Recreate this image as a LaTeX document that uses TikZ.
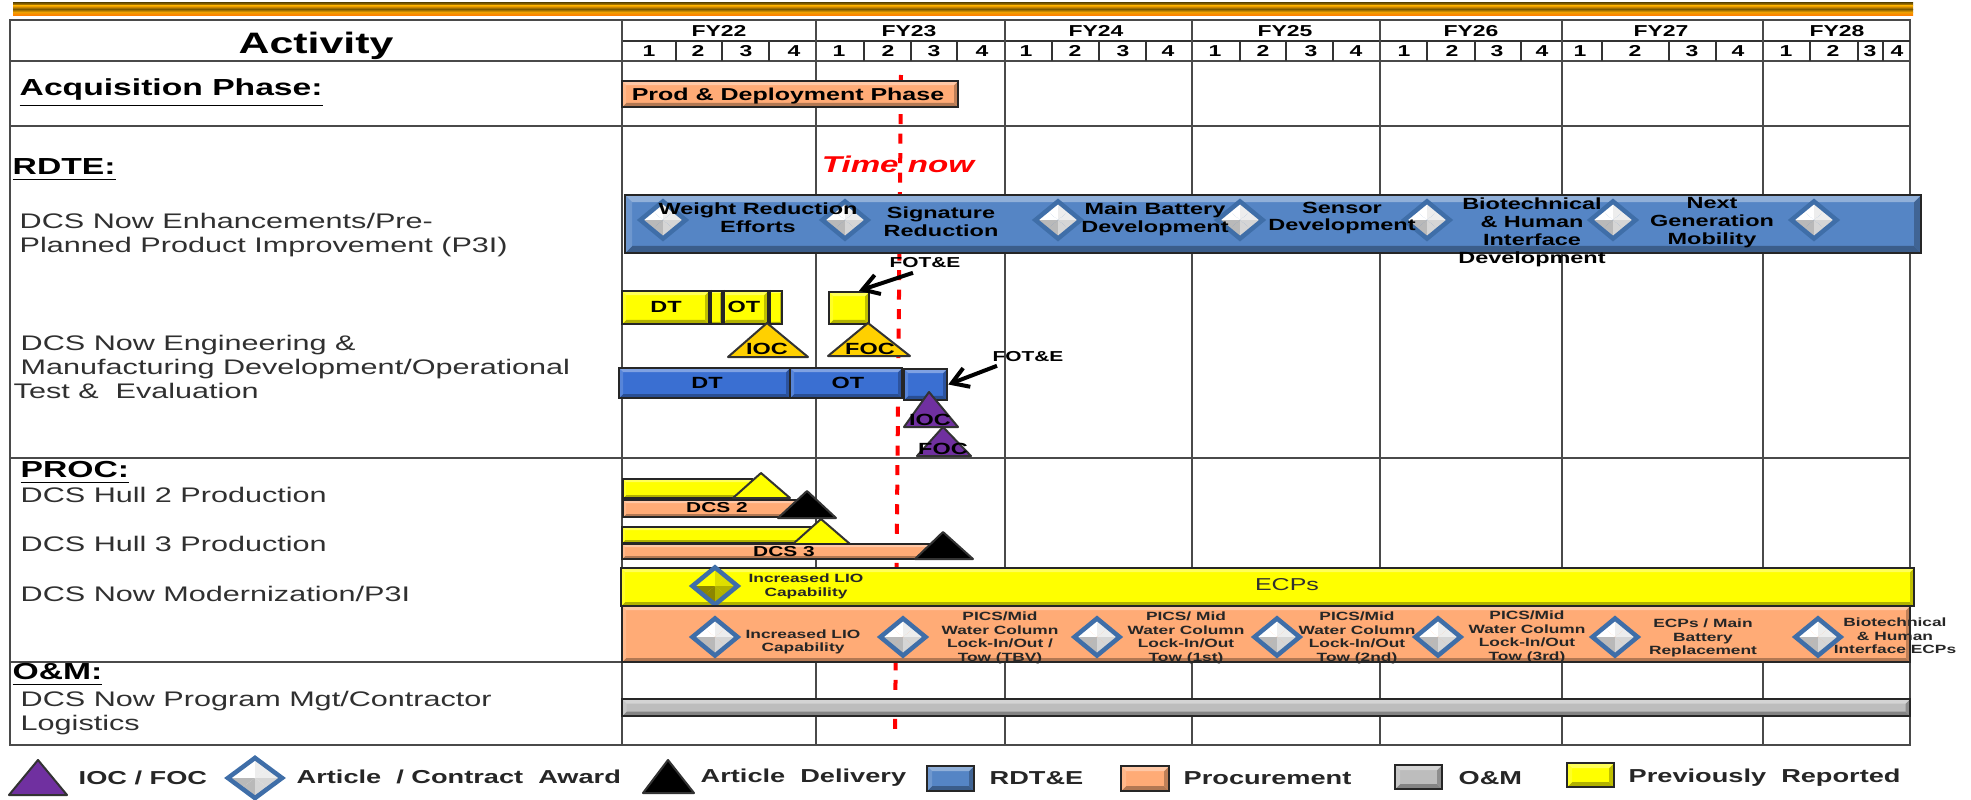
\documentclass[tikz,border=0pt]{standalone}
\usepackage{fontspec}
\setmainfont[FakeStretch=1.45]{Liberation Sans}
\usetikzlibrary{fit,shapes.geometric,arrows.meta}
\definecolor{golddk}{HTML}{7A5800}
\definecolor{goldlt}{HTML}{F0A000}
\definecolor{gridc}{HTML}{4A4A4A}
\definecolor{blueb}{HTML}{5585C5}
\definecolor{bluec}{HTML}{3A6FD2}
\definecolor{orangeb}{HTML}{FFAB76}
\definecolor{yellowb}{HTML}{FFFF00}
\definecolor{grayb}{HTML}{BDBDBD}
\definecolor{gemc}{HTML}{3F6EA8}
\definecolor{purpb}{HTML}{7030A0}
\definecolor{goldtri}{HTML}{FFD000}
\definecolor{labc}{HTML}{303030}
\tikzset{
  pbar/.style 2 args={draw=black!85, line width=0.025cm, fill=#1, inner sep=0pt, path picture={
    \coordinate (nw) at (path picture bounding box.north west);
    \coordinate (ne) at (path picture bounding box.north east);
    \coordinate (sw) at (path picture bounding box.south west);
    \coordinate (se) at (path picture bounding box.south east);
    \fill[#1!70!black] (sw) -- (se) -- ([xshift=-#2,yshift=#2]se) -- ([xshift=#2,yshift=#2]sw) -- cycle;
    \fill[#1!75!black] (ne) -- (se) -- ([xshift=-#2,yshift=#2]se) -- ([xshift=-#2,yshift=-#2]ne) -- cycle;
    \fill[#1!85!white] (nw) -- (sw) -- ([xshift=#2,yshift=#2]sw) -- ([xshift=#2,yshift=-#2]nw) -- cycle;
    \fill[#1!65!white] (nw) -- (ne) -- ([xshift=-#2,yshift=-#2]ne) -- ([xshift=#2,yshift=-#2]nw) -- cycle;
  }},
  gem/.style 2 args={shape=diamond, draw=gemc, line width=0.045cm, inner sep=0pt, minimum width=0.47cm, minimum height=0.39cm, path picture={
    \coordinate (gc) at (path picture bounding box.center);
    \fill[#1] (gc) -- (path picture bounding box.north west) -- (path picture bounding box.north) -- cycle;
    \fill[#1] (gc) -- (path picture bounding box.north west) -- (path picture bounding box.west) -- cycle;
    \fill[#1!75!#2] (gc) -- (path picture bounding box.north east) -- (path picture bounding box.north) -- cycle;
    \fill[#1!75!#2] (gc) -- (path picture bounding box.north east) -- (path picture bounding box.east) -- cycle;
    \fill[#2] (gc) -- (path picture bounding box.south west) -- (path picture bounding box.south) -- cycle;
    \fill[#2] (gc) -- (path picture bounding box.south west) -- (path picture bounding box.west) -- cycle;
    \fill[#1!40!#2] (gc) -- (path picture bounding box.south east) -- (path picture bounding box.south) -- cycle;
    \fill[#1!40!#2] (gc) -- (path picture bounding box.south east) -- (path picture bounding box.east) -- cycle;
  }},
  tri/.style={draw=black!80, line width=0.02cm, fill=#1, line join=round},
  yearline/.style={draw=gridc, line width=0.022cm},
  quarterline/.style={draw=black!80, line width=0.014cm},
  nowline/.style={draw=red, line width=0.04cm, dash pattern=on 0.1cm off 0.095cm},
  callout/.style={draw=black, line width=0.04cm, -{Straight Barb[length=0.16cm,width=0.2cm,line width=0.04cm]}},
  divider/.style={draw=black!85, line width=0.04cm},
  fylab/.style={inner sep=0pt, font=\fontsize{4.5}{5.4}\selectfont\bfseries},
  headlab/.style={inner sep=0pt, anchor=west, font=\fontsize{6.6}{8}\selectfont\bfseries},
  actlab/.style={inner sep=0pt, anchor=west, align=left, text=labc, font=\fontsize{6}{6.9}\selectfont},
  barlab/.style={inner sep=0pt, align=center, font=\fontsize{4.6}{5.1}\selectfont\bfseries},
  smalllab/.style={inner sep=0pt, align=center, text=black!85, font=\fontsize{3.4}{3.85}\selectfont\bfseries},
  marklab/.style={inner sep=0pt, text=black, font=\fontsize{4.1}{5}\selectfont\bfseries},
  keylab/.style={inner sep=0pt, anchor=west, text=black!85, font=\fontsize{5.33}{6}\selectfont\bfseries}
}
\begin{document}
\begin{tikzpicture}[x=0.01cm,y=-0.01cm]
\useasboundingbox (0,0) rectangle (1971,800);
\foreach \ya/\yb/\ca/\cb in {3/6/golddk/goldlt, 6/9/goldlt/golddk, 9/12/golddk/goldlt, 12/15/goldlt/orange}
  \shade[top color=\ca, bottom color=\cb] (13,\ya) rectangle (1913,\yb);
\draw[yearline] (10,20) rectangle (1910,745);
\foreach \y in {61,126,458,662}
  \draw[yearline] (10,\y) -- (1910,\y);
\draw[quarterline] (622,41) -- (1910,41);
\foreach \x in {622,816,1005,1192,1380,1562,1763}
  \draw[yearline] (\x,20) -- (\x,745);
\foreach \x in {676,722,769,864,911,957,1052,1099,1146,1240,1286,1333,1427,1475,1521,1602,1669,1716,1810,1858,1883}
  \draw[quarterline] (\x,41) -- (\x,61);
\foreach \x/\t in {719/22,909/23,1096/24,1285/25,1471/26,1661/27,1837/28}
  \node[fylab] (fy\t) at (\x,31) {FY\t};
\foreach \x/\q in {649/1,698/2,746/3,794/4,839/1,888/2,934/3,982/4,1026/1,1075/2,1123/3,1168/4,1215/1,1263/2,1311/3,1356/4,1404/1,1452/2,1497/3,1542/4,1580/1,1635/2,1692/3,1738/4,1786/1,1833/2,1870/3,1897/4}
  \node[fylab] (q\x) at (\x,51) {\q};
\node[inner sep=0pt, font=\fontsize{8.4}{10}\selectfont\bfseries] (activity) at (316,46) {Activity};
\node[headlab] (acqhead) at (19,93) {\underline{Acquisition Phase:}};
\node[headlab] (rdtehead) at (12,170) {\underline{RDTE:}};
\node[headlab] (prochead) at (20,473) {\underline{PROC:}};
\node[headlab] (omhead) at (12,675) {\underline{O\&M:}};
\node[actlab] (enhlab) at (19,235) {DCS Now Enhancements/Pre-\\Planned Product Improvement (P3I)};
\node[actlab] (emdlab) at (20,357) {DCS Now Engineering \&\\Manufacturing Development/Operational};
\node[actlab] (testlab) at (13,391) {Test \&\ \ Evaluation};
\node[actlab] (hull2lab) at (20,495) {DCS Hull 2 Production};
\node[actlab] (hull3lab) at (20,544) {DCS Hull 3 Production};
\node[actlab] (modlab) at (20,594) {DCS Now Modernization/P3I};
\node[actlab] (mgtlab) at (20,713) {DCS Now Program Mgt/Contractor\\Logistics};

\coordinate (nowtop) at (901,75);
\coordinate (nowbot) at (895,738);
\draw[nowline] (nowtop) -- (nowbot);
\node[inner sep=0pt, text=red, font=\fontsize{6.5}{8}\selectfont\bfseries\itshape] (timenow) at (898,164) {Time now};

\node[pbar={orangeb}{0.04cm}, fit={(622,81)(958,107)}] (prodbar) {};
\node[barlab, font=\fontsize{4.9}{6}\selectfont\bfseries] (prodlab) at (788,96) {Prod \& Deployment Phase};

\node[pbar={blueb}{0.07cm}, fit={(625,195)(1921,253)}] (enhbar) {};
\foreach \x in {663,845,1058,1240,1427,1613,1814}
  \node[gem={white}{gray!55}] (gem\x) at (\x,220) {};
\node[barlab] (enh1) at (758,218) {Weight Reduction\\Efforts};
\node[barlab] (enh2) at (941,222) {Signature\\Reduction};
\node[barlab] (enh3) at (1155,219) {Main Battery\\Development};
\node[barlab] (enh4) at (1342,218) {Sensor\\Development};
\node[barlab] (enh5) at (1532,232) {Biotechnical\\\& Human\\Interface\\Development};
\node[barlab] (enh6) at (1712,223) {Next\\Generation\\Mobility};

\node[pbar={yellowb}{0.04cm}, fit={(622,291)(709,324)}] (dtold) {};
\node[pbar={yellowb}{0.02cm}, fit={(709,291)(722,324)}] (dtold2) {};
\node[pbar={yellowb}{0.04cm}, fit={(722,291)(768,324)}] (otold) {};
\node[pbar={yellowb}{0.02cm}, fit={(768,291)(782,324)}] (otold2) {};
\node[pbar={yellowb}{0.04cm}, fit={(829,292)(869,324)}] (fotold) {};
\draw[divider] (dtold.north east) -- (dtold.south east);
\draw[divider] (dtold2.north east) -- (dtold2.south east);
\draw[divider] (otold.north east) -- (otold.south east);
\node[barlab] (dtoldlab) at (666,307) {DT};
\node[barlab] (otoldlab) at (744,307) {OT};
\draw[tri=goldtri] (767,323) -- (808,357) -- (728,357) -- cycle;
\draw[tri=goldtri] (868,323) -- (910,356) -- (828,356) -- cycle;
\node[barlab] (iocold) at (767,349) {IOC};
\node[barlab] (focold) at (870,349) {FOC};
\node[marklab] (fotlabold) at (925,263) {FOT\&E};
\draw[callout] (fotlabold.south) ++(-12,4) coordinate (fotfromold) -- ([xshift=0.1cm]fotold.north);

\node[pbar={bluec}{0.04cm}, fit={(619,368)(790,398)}] (dtnew) {};
\node[pbar={bluec}{0.04cm}, fit={(790,368)(902,398)}] (otnew) {};
\node[pbar={bluec}{0.04cm}, fit={(904,369)(947,400)}] (fotnew) {};
\node[barlab] (dtnewlab) at (707,383) {DT};
\node[barlab] (otnewlab) at (848,383) {OT};
\node[marklab] (fotlabnew) at (1028,357) {FOT\&E};
\draw[callout] (fotlabnew.south) ++(-31,3) coordinate (fotfromnew) -- (fotnew.east);
\draw[tri=purpb] (929,392) -- (958,427) -- (904,427) -- cycle;
\draw[tri=purpb] (943,427) -- (971,456) -- (917,456) -- cycle;
\node[barlab] (iocnew) at (930,420) {IOC};
\node[barlab] (focnew) at (943,449) {FOC};

\node[pbar={yellowb}{0.03cm}, fit={(623,479)(752,498)}] (hull2old) {};
\draw[tri=yellowb] (761,473) -- (790,498) -- (733,498) -- cycle;
\node[pbar={orangeb}{0.03cm}, fit={(623,500)(800,517)}] (hull2bar) {};
\node[marklab] (hull2txt) at (717,508) {DCS 2};
\draw[tri=black] (807,491) -- (836,518) -- (778,518) -- cycle;

\node[pbar={yellowb}{0.03cm}, fit={(622,527)(812,543)}] (hull3old) {};
\draw[tri=yellowb] (821,519) -- (850,544) -- (793,544) -- cycle;
\node[pbar={orangeb}{0.03cm}, fit={(622,544)(935,559)}] (hull3bar) {};
\node[marklab] (hull3txt) at (784,552) {DCS 3};
\draw[tri=black] (943,532) -- (973,559) -- (915,559) -- cycle;

\node[pbar={yellowb}{0.04cm}, fit={(621,568)(1914,606)}] (ecpbar) {};
\node[gem={yellowb}{olive}] (gemecp) at (715,586) {};
\node[smalllab] (ecpinc) at (806,586.5) {Increased LIO\\Capability};
\node[inner sep=0pt, text=labc, font=\fontsize{4.9}{6}\selectfont] (ecplab) at (1287,585) {ECPs};

\node[pbar={orangeb}{0.04cm}, fit={(622,606)(1910,662)}] (procbar) {};
\foreach \x in {715,903,1097,1277,1438,1615,1818}
  \node[gem={white}{gray!55}] (pgem\x) at (\x,637) {};
\node[smalllab] (p1) at (803,642) {Increased LIO\\Capability};
\node[smalllab] (p2) at (1000,638) {PICS/Mid\\Water Column\\Lock-In/Out /\\Tow (TBV)};
\node[smalllab] (p3) at (1186,638) {PICS/ Mid\\Water Column\\Lock-In/Out\\Tow (1st)};
\node[smalllab] (p4) at (1357,638) {PICS/Mid\\Water Column\\Lock-In/Out\\Tow (2nd)};
\node[smalllab] (p5) at (1527,637) {PICS/Mid\\Water Column\\Lock-In/Out\\Tow (3rd)};
\node[smalllab] (p6) at (1703,638) {ECPs / Main\\Battery\\Replacement};
\node[smalllab] (p7) at (1895,636) {Biotechnical\\\& Human\\Interface ECPs};

\node[pbar={grayb}{0.045cm}, fit={(622,699)(1910,716)}] (ombar) {};

\draw[tri=purpb] (38,760) -- (67,795) -- (9,795) -- cycle;
\node[keylab] (keyioc) at (78,778) {IOC / FOC};
\node[gem={white}{gray!55}, minimum width=0.56cm, minimum height=0.42cm] (keygem) at (255,778) {};
\node[keylab] (keyaward) at (296,777) {Article\ \ / Contract\ \ Award};
\draw[tri=black] (668,760) -- (694,793) -- (643,793) -- cycle;
\node[keylab] (keydel) at (700,778) {Article\ \ Delivery};
\node[pbar={blueb}{0.05cm}, fit={(927,766)(974,791)}] (keyblue) {};
\node[keylab] (keyrdte) at (989,778) {RDT\&E};
\node[pbar={orangeb}{0.05cm}, fit={(1121,766)(1169,791)}] (keyproc) {};
\node[keylab] (keyproclab) at (1183,778) {Procurement};
\node[pbar={grayb}{0.05cm}, fit={(1395,765)(1442,789)}] (keyom) {};
\node[keylab] (keyomlab) at (1458,778) {O\&M};
\node[pbar={yellowb}{0.05cm}, fit={(1567,763)(1614,787)}] (keyold) {};
\node[keylab] (keyoldlab) at (1628,778) {Previously\ \ Reported};
\end{tikzpicture}
\end{document}
